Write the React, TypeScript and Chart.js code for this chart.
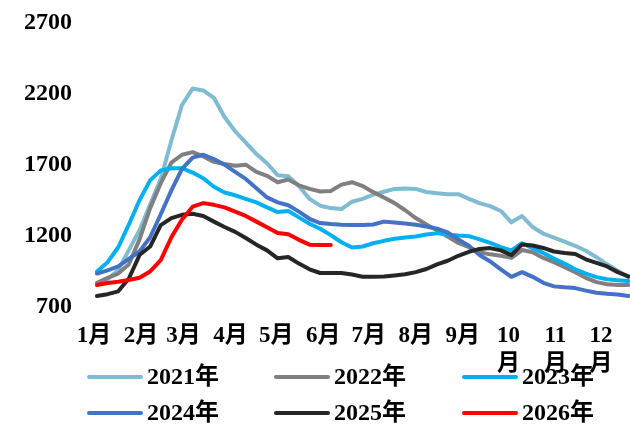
import React, { useEffect, useRef } from "react";
import { Chart, registerables } from "chart.js";

Chart.register(...registerables);

// ---- data ----
const monthLabels = ["1月", "2月", "3月", "4月", "5月", "6月", "7月", "8月", "9月", "10月", "11月", "12月"];
const monthStartDays = [0, 31, 59, 90, 120, 151, 181, 212, 243, 273, 304, 334];
const yTicks = [700, 1200, 1700, 2200, 2700];
// weekly observation dates (day of year)
const weekDays = [
  2, 9, 16, 23, 30, 37, 44, 51, 58, 65, 72, 79, 86, 93, 100, 107, 114, 121, 128, 135,
  142, 149, 156, 163, 170, 177, 184, 191, 198, 205, 212, 219, 226, 233, 240, 247, 254,
  261, 268, 275, 282, 289, 296, 303, 310, 317, 324, 331, 338, 345, 352,
];
const seriesNames = ["2021年", "2022年", "2023年", "2024年", "2025年", "2026年"];
const seriesColors = ["#7FBCD2", "#808080", "#00B0F0", "#4472C4", "#262626", "#FF0000"];

const s2021 = [
  855, 895, 960, 1100, 1240, 1420, 1600, 1870, 2120, 2235, 2222, 2170, 2035, 1935, 1855, 1775, 1710,
  1626, 1619, 1550, 1460, 1412, 1395, 1388, 1440, 1460, 1490, 1510, 1530, 1532, 1530, 1508, 1500,
  1493, 1493, 1460, 1430, 1409, 1375, 1295, 1339, 1262, 1215, 1188, 1160, 1130, 1095, 1050, 1000,
  955, 910,
];
const s2022 = [
  870, 905, 935, 1000, 1175, 1395, 1570, 1715, 1770, 1788, 1758, 1720, 1705, 1692, 1700, 1650, 1622,
  1577, 1596, 1555, 1530, 1512, 1515, 1560, 1577, 1550, 1507, 1470, 1430, 1380, 1325, 1280, 1240,
  1195, 1150, 1120, 1085, 1070, 1060, 1045, 1100, 1085, 1045, 1015, 980, 945, 905, 875, 860, 855, 855,
];
const s2023 = [
  950, 1015, 1120, 1280, 1450, 1590, 1660, 1675, 1675, 1645, 1605, 1545, 1505, 1485, 1460, 1435, 1400,
  1367, 1374, 1330, 1285, 1250, 1205, 1155, 1118, 1125, 1148, 1165, 1180, 1188, 1195, 1210, 1219,
  1208, 1202, 1198, 1175, 1150, 1121, 1098, 1148, 1114, 1080, 1040, 1005, 965, 935, 910, 895, 888, 882,
];
const s2024 = [
  935, 958, 985, 1038, 1090, 1190, 1352, 1520, 1670, 1750, 1770, 1740, 1700, 1650, 1600, 1535, 1470,
  1435, 1415, 1370, 1320, 1290, 1283, 1278, 1276, 1276, 1280, 1300, 1293, 1287, 1278, 1266, 1250,
  1225, 1175, 1130, 1065, 1020, 965, 912, 945, 912, 870, 845, 838, 833, 815, 800, 793, 788, 778,
];
const s2025 = [
  777, 790, 810, 900, 1065, 1125, 1275, 1325, 1348, 1355, 1340, 1300, 1262, 1228, 1185, 1138, 1098,
  1042, 1051, 1005, 965, 939, 939, 939, 928, 913, 912, 915, 922, 930, 945, 967, 1000, 1025, 1060,
  1088, 1108, 1114, 1098, 1065, 1140, 1132, 1115, 1090, 1080, 1072, 1035, 1010, 985, 945, 915,
];
const s2026 = [
  855, 868, 878, 890, 905, 950, 1030, 1190, 1315, 1405, 1430, 1418, 1400, 1370, 1340, 1300, 1260,
  1220, 1212, 1172, 1138, 1135, 1135,
];
const seriesValues = [s2021, s2022, s2023, s2024, s2025, s2026];

// ---- styling ----
const FONT = "'Times New Roman', 'Liberation Serif', 'Noto Sans CJK SC', serif";
const legendColX = [87, 274, 462];
const legendRowY = [377, 413];

const legendPlugin = {
  id: "customLegend",
  afterDraw(chart: any) {
    const ctx = chart.ctx;
    ctx.save();
    chart.data.datasets.forEach((ds: any, i: number) => {
      const x0 = legendColX[i % 3];
      const y = legendRowY[Math.floor(i / 3)];
      ctx.strokeStyle = ds.borderColor;
      ctx.lineWidth = 4;
      ctx.lineCap = "round";
      ctx.beginPath();
      ctx.moveTo(x0 + 2, y);
      ctx.lineTo(x0 + 54, y);
      ctx.stroke();
      ctx.fillStyle = "#000";
      ctx.font = `bold 24px ${FONT}`;
      ctx.textAlign = "left";
      ctx.textBaseline = "middle";
      ctx.fillText(ds.label, x0 + 60, y + 1);
    });
    ctx.restore();
  },
};

export default function App() {
  const canvasRef = useRef<HTMLCanvasElement | null>(null);

  useEffect(() => {
    if (!canvasRef.current) return;
    const datasets = seriesNames.map((name, i) => ({
      label: name,
      data: seriesValues[i].map((v, k) => ({ x: weekDays[k], y: v })),
      borderColor: seriesColors[i],
      backgroundColor: seriesColors[i],
      borderWidth: 4,
      pointRadius: 0,
      tension: 0,
      borderJoinStyle: "round" as const,
      borderCapStyle: "round" as const,
      order: seriesNames.length - i,
    }));

    const chart = new Chart(canvasRef.current, {
      type: "line",
      data: { datasets },
      options: {
        animation: false,
        responsive: false,
        layout: { padding: { top: 22, left: 0, right: 0, bottom: 0 } },
        plugins: { legend: { display: false }, tooltip: { enabled: false } },
        scales: {
          x: {
            type: "linear",
            min: -9.2,
            max: 353.1,
            grid: { display: false, drawTicks: false },
            border: { display: false },
            afterBuildTicks: (scale: any) => {
              scale.ticks = monthStartDays.map((v) => ({ value: v }));
            },
            afterFit: (scale: any) => {
              scale.height = 120;
            },
            ticks: {
              autoSkip: false,
              maxRotation: 0,
              minRotation: 0,
              padding: 15,
              color: "#000",
              font: { family: FONT, size: 23, weight: "bold", lineHeight: 1.22 },
              callback: (_v: any, idx: number) => {
                const l = monthLabels[idx];
                return l.length > 2 ? [l.slice(0, -1), l.slice(-1)] : l;
              },
            },
          },
          y: {
            type: "linear",
            min: 700,
            max: 2700,
            grid: { display: false, drawTicks: false },
            border: { display: false },
            afterBuildTicks: (scale: any) => {
              scale.ticks = yTicks.map((v) => ({ value: v }));
            },
            afterFit: (scale: any) => {
              scale.width = 80;
            },
            ticks: {
              padding: 8,
              color: "#000",
              font: { family: FONT, size: 24, weight: "bold" },
              callback: (v: any) => String(v),
            },
          },
        },
      },
      plugins: [legendPlugin],
    });
    return () => chart.destroy();
  }, []);

  return (
    <div style={{ position: "fixed", left: 0, top: 0, width: 630, height: 427, background: "#fff" }}>
      <canvas ref={canvasRef} width={630} height={427} style={{ display: "block" }} />
    </div>
  );
}
